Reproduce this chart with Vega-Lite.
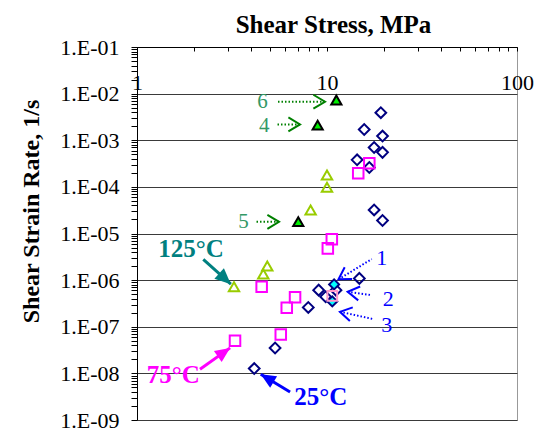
{
  "$schema": "https://vega.github.io/schema/vega-lite/v6.json",
  "width": 380,
  "height": 373,
  "autosize": {"type": "none"},
  "padding": {"left": 137, "top": 47, "right": 21, "bottom": 20},
  "background": "white",
  "config": {
    "font": "Liberation Serif",
    "view": {"stroke": "#999999", "strokeWidth": 1}
  },
  "datasets": {
    "points": [
      {"series": "25C", "s": 19.2, "r": 3.9e-3},
      {"series": "25C", "s": 15.7, "r": 1.7e-3},
      {"series": "25C", "s": 19.6, "r": 1.23e-3},
      {"series": "25C", "s": 17.7, "r": 7.0e-4},
      {"series": "25C", "s": 19.6, "r": 5.5e-4},
      {"series": "25C", "s": 14.4, "r": 3.8e-4},
      {"series": "25C", "s": 16.7, "r": 2.6e-4},
      {"series": "25C", "s": 17.7, "r": 3.2e-5},
      {"series": "25C", "s": 19.6, "r": 1.9e-5},
      {"series": "25C", "s": 14.8, "r": 1.09e-6},
      {"series": "25C", "s": 9.04, "r": 6.1e-7},
      {"series": "25C", "s": 11.15, "r": 6.1e-7},
      {"series": "25C", "s": 9.84, "r": 4.4e-7},
      {"series": "25C", "s": 7.97, "r": 2.6e-7},
      {"series": "25C", "s": 5.33, "r": 3.5e-8},
      {"series": "25C", "s": 4.14, "r": 1.27e-8},
      {"series": "75C", "s": 16.7, "r": 3.2e-4},
      {"series": "75C", "s": 14.6, "r": 1.95e-4},
      {"series": "75C", "s": 10.6, "r": 7.5e-6},
      {"series": "75C", "s": 10.1, "r": 4.8e-6},
      {"series": "75C", "s": 4.53, "r": 7.2e-7},
      {"series": "75C", "s": 6.79, "r": 4.3e-7},
      {"series": "75C", "s": 6.14, "r": 2.55e-7},
      {"series": "75C", "s": 5.71, "r": 6.8e-8},
      {"series": "75C", "s": 3.28, "r": 5.0e-8},
      {"series": "125C", "s": 10.0, "r": 1.8e-4},
      {"series": "125C", "s": 10.0, "r": 9.8e-5},
      {"series": "125C", "s": 8.2, "r": 3.2e-5},
      {"series": "125C", "s": 3.24, "r": 7.2e-7},
      {"series": "125C", "s": 4.85, "r": 2.0e-6},
      {"series": "125C", "s": 4.62, "r": 1.35e-6},
      {"series": "125C runs 4-6", "s": 11.2, "r": 7.3e-3},
      {"series": "125C runs 4-6", "s": 8.93, "r": 2.12e-3},
      {"series": "125C runs 4-6", "s": 7.06, "r": 1.8e-5},
      {"series": "25C runs 1,3", "s": 10.9, "r": 8.1e-7},
      {"series": "25C runs 1,3", "s": 10.66, "r": 3.5e-7},
      {"series": "75C run 2", "s": 10.66, "r": 4.6e-7}
    ],
    "arrows": [
      {"id": "6", "s": 9.76, "r": 6.7e-3, "s2": 5.5, "r2": 6.7e-3},
      {"id": "4", "s": 7.21, "r": 2.19e-3, "s2": 5.37, "r2": 2.19e-3},
      {"id": "5", "s": 5.59, "r": 1.78e-5, "s2": 4.18, "r2": 1.78e-5},
      {"id": "1", "s": 11.5, "r": 1.04e-6, "s2": 17.2, "r2": 2.83e-6},
      {"id": "2", "s": 12.85, "r": 5.61e-7, "s2": 17.2, "r2": 4.77e-7},
      {"id": "3", "s": 11.7, "r": 2.09e-7, "s2": 17.5, "r2": 1.46e-7},
      {"id": "125", "s": 3.12, "r": 8.2e-7, "s2": 2.233, "r2": 2.78e-6},
      {"id": "75", "s": 3.09, "r": 3.52e-8, "s2": 2.146, "r2": 1.23e-8},
      {"id": "25", "s": 4.48, "r": 9.6e-9, "s2": 6.39, "r2": 4.0e-9}
    ],
    "labels": [
      {"group": "run", "t": "6", "s": 4.57, "r": 6.7e-3},
      {"group": "run", "t": "4", "s": 4.68, "r": 2.05e-3},
      {"group": "run", "t": "5", "s": 3.63, "r": 1.78e-5},
      {"group": "test", "t": "1", "s": 19.4, "r": 2.92e-6},
      {"group": "test", "t": "2", "s": 21.0, "r": 3.9e-7},
      {"group": "test", "t": "3", "s": 20.6, "r": 1.08e-7},
      {"group": "temperature", "t": "125°C", "s": 1.925, "r": 3.16e-6},
      {"group": "temperature", "t": "75°C", "s": 1.553, "r": 6.07e-9},
      {"group": "temperature", "t": "25°C", "s": 9.28, "r": 2.15e-9}
    ]
  },
  "encoding": {
    "x": {
      "field": "s",
      "type": "quantitative",
      "scale": {"type": "log", "domain": [1, 100], "nice": false},
      "axis": {
        "orient": "top",
        "title": "Shear Stress, MPa",
        "titleFont": "Liberation Serif",
        "titleFontSize": 25,
        "titleFontWeight": "bold",
        "titleColor": "black",
        "titleX": 196,
        "titleY": -15,
        "titleAlign": "center",
        "titleBaseline": "alphabetic",
        "tickCount": 30,
        "labelExpr": "abs(log(datum.value)/LN10 - round(log(datum.value)/LN10)) < 1e-6 ? format(datum.value, 'd') : ''",
        "labelFont": "Liberation Serif",
        "labelFontSize": 22,
        "labelColor": "black",
        "labelBaseline": "alphabetic",
        "labelPadding": -38,
        "labelOverlap": false,
        "labelFlush": false,
        "tickSize": -4,
        "tickColor": "black",
        "domainColor": "black",
        "grid": false
      }
    },
    "y": {
      "field": "r",
      "type": "quantitative",
      "scale": {"type": "log", "domain": [1e-9, 0.1], "nice": false},
      "axis": {
        "orient": "left",
        "title": "Shear Strain Rate, 1/s",
        "titleFont": "Liberation Serif",
        "titleFontSize": 24,
        "titleFontWeight": "bold",
        "titleColor": "black",
        "titleAngle": 270,
        "titleX": -106,
        "titleY": 164,
        "titleAlign": "center",
        "titleBaseline": "middle",
        "tickCount": 100,
        "labelExpr": "abs(log(datum.value)/LN10 - round(log(datum.value)/LN10)) < 1e-6 ? '1.E-0' + (-round(log(datum.value)/LN10)) : ''",
        "labelFont": "Liberation Serif",
        "labelFontSize": 22,
        "labelColor": "black",
        "labelBaseline": "middle",
        "labelPadding": 12,
        "labelOverlap": false,
        "labelFlush": false,
        "tickSize": 6,
        "tickColor": "black",
        "domainColor": "black",
        "grid": true,
        "gridColor": "#3a3a3a",
        "gridOpacity": {
          "condition": {"test": "abs(log(datum.value)/LN10 - round(log(datum.value)/LN10)) < 1e-6", "value": 1},
          "value": 0
        }
      }
    }
  },
  "layer": [
    {
      "data": {"name": "points"},
      "mark": {"type": "point", "filled": true, "opacity": 1},
      "encoding": {
        "shape": {
          "field": "series", "type": "nominal", "legend": null,
          "scale": {
            "domain": ["25C", "75C", "125C", "125C runs 4-6", "25C runs 1,3", "75C run 2"],
            "range": ["diamond", "square", "triangle-up", "triangle-up", "diamond", "square"]
          }
        },
        "stroke": {
          "field": "series", "type": "nominal", "legend": null,
          "scale": {
            "domain": ["25C", "75C", "125C", "125C runs 4-6", "25C runs 1,3", "75C run 2"],
            "range": ["#000080", "#ff00ff", "#99cc00", "#000000", "#000080", "#ff99cc"]
          }
        },
        "fill": {
          "field": "series", "type": "nominal", "legend": null,
          "scale": {
            "domain": ["25C", "75C", "125C", "125C runs 4-6", "25C runs 1,3", "75C run 2"],
            "range": ["transparent", "transparent", "transparent", "#00ee00", "#00ffff", "transparent"]
          }
        },
        "size": {
          "field": "series", "type": "nominal", "legend": null,
          "scale": {
            "domain": ["25C", "75C", "125C", "125C runs 4-6", "25C runs 1,3", "75C run 2"],
            "range": [115, 95, 140, 150, 120, 85]
          }
        },
        "strokeWidth": {
          "field": "series", "type": "nominal", "legend": null,
          "scale": {
            "domain": ["25C", "75C", "125C", "125C runs 4-6", "25C runs 1,3", "75C run 2"],
            "range": [2, 2, 2.2, 1.5, 1.8, 2]
          }
        }
      }
    },
    {
      "data": {"name": "arrows"},
      "transform": [{"filter": {"field": "id", "oneOf": ["6", "4", "5"]}}],
      "mark": {"type": "rule", "color": "#008000", "strokeWidth": 2, "strokeDash": [1.5, 2]},
      "encoding": {"x2": {"field": "s2"}, "y2": {"field": "r2"}}
    },
    {
      "data": {"name": "arrows"},
      "transform": [{"filter": {"field": "id", "oneOf": ["1", "2", "3"]}}],
      "mark": {"type": "rule", "color": "#0000ff", "strokeWidth": 2, "strokeDash": [1.5, 2]},
      "encoding": {"x2": {"field": "s2"}, "y2": {"field": "r2"}}
    },
    {
      "data": {"name": "arrows"},
      "transform": [{"filter": {"field": "id", "oneOf": ["125", "75", "25"]}}],
      "mark": {"type": "rule", "strokeWidth": 3},
      "encoding": {
        "x2": {"field": "s2"},
        "y2": {"field": "r2"},
        "color": {
          "field": "id", "type": "nominal", "legend": null,
          "scale": {"domain": ["125", "75", "25"], "range": ["#008080", "#ff00ff", "#0000ff"]}
        }
      }
    },
    {
      "data": {"name": "arrows"},
      "transform": [{"filter": {"field": "id", "oneOf": ["6", "4", "5"]}}],
      "mark": {"type": "point", "shape": "M-1,-0.6L0,0L-1,0.6", "size": 540, "filled": false, "opacity": 1, "stroke": "#008000", "strokeWidth": 2, "angle": 0}
    },
    {
      "data": {"name": "arrows"},
      "transform": [{"filter": {"field": "id", "equal": "1"}}],
      "mark": {"type": "point", "shape": "M-1,-0.6L0,0L-1,0.6", "size": 540, "filled": false, "opacity": 1, "stroke": "#0000ff", "strokeWidth": 2, "angle": 148}
    },
    {
      "data": {"name": "arrows"},
      "transform": [{"filter": {"field": "id", "equal": "2"}}],
      "mark": {"type": "point", "shape": "M-1,-0.6L0,0L-1,0.6", "size": 540, "filled": false, "opacity": 1, "stroke": "#0000ff", "strokeWidth": 2, "angle": 188}
    },
    {
      "data": {"name": "arrows"},
      "transform": [{"filter": {"field": "id", "equal": "3"}}],
      "mark": {"type": "point", "shape": "M-1,-0.6L0,0L-1,0.6", "size": 540, "filled": false, "opacity": 1, "stroke": "#0000ff", "strokeWidth": 2, "angle": 192}
    },
    {
      "data": {"name": "arrows"},
      "transform": [{"filter": {"field": "id", "equal": "125"}}],
      "mark": {"type": "point", "shape": "M0,0L-1,-0.45L-1,0.45Z", "size": 1000, "filled": true, "opacity": 1, "fill": "#008080", "strokeWidth": 0, "angle": 42}
    },
    {
      "data": {"name": "arrows"},
      "transform": [{"filter": {"field": "id", "equal": "75"}}],
      "mark": {"type": "point", "shape": "M0,0L-1,-0.45L-1,0.45Z", "size": 900, "filled": true, "opacity": 1, "fill": "#ff00ff", "strokeWidth": 0, "angle": 325}
    },
    {
      "data": {"name": "arrows"},
      "transform": [{"filter": {"field": "id", "equal": "25"}}],
      "mark": {"type": "point", "shape": "M0,0L-1,-0.45L-1,0.45Z", "size": 900, "filled": true, "opacity": 1, "fill": "#0000ff", "strokeWidth": 0, "angle": 211}
    },
    {
      "data": {"name": "labels"},
      "transform": [{"filter": {"field": "group", "equal": "run"}}],
      "mark": {"type": "text", "font": "Liberation Serif", "fontSize": 21, "color": "#339966", "align": "center", "baseline": "middle"},
      "encoding": {"text": {"field": "t"}}
    },
    {
      "data": {"name": "labels"},
      "transform": [{"filter": {"field": "group", "equal": "test"}}],
      "mark": {"type": "text", "font": "Liberation Serif", "fontSize": 22, "color": "#0000ff", "align": "center", "baseline": "middle"},
      "encoding": {"text": {"field": "t"}}
    },
    {
      "data": {"name": "labels"},
      "transform": [{"filter": {"field": "group", "equal": "temperature"}}],
      "mark": {"type": "text", "font": "Liberation Serif", "fontSize": 25, "fontWeight": "bold", "align": "center", "baseline": "alphabetic"},
      "encoding": {
        "text": {"field": "t"},
        "color": {
          "field": "t", "type": "nominal", "legend": null,
          "scale": {"domain": ["125°C", "75°C", "25°C"], "range": ["#008080", "#ff00ff", "#000080"]}
        }
      }
    }
  ]
}
